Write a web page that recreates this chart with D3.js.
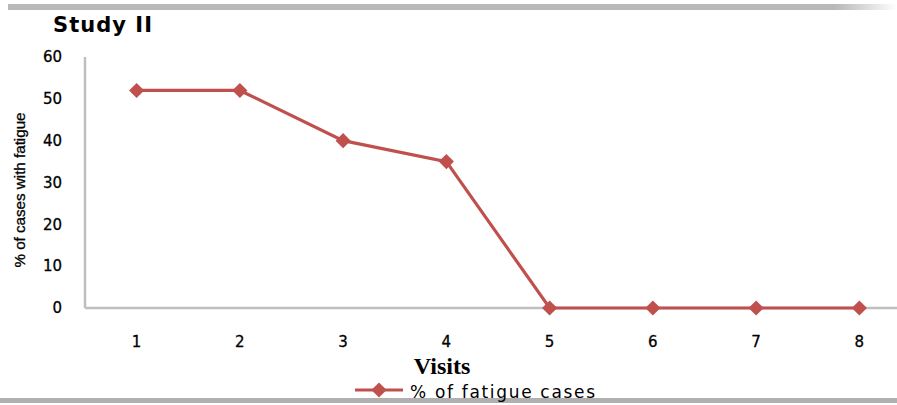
<!DOCTYPE html>
<html>
<head>
<meta charset="utf-8">
<script src="https://cdn.jsdelivr.net/npm/d3@7"></script>
<style>
  body { margin: 0; background: #fff; }
  svg { display: block; }
</style>
</head>
<body>
<div id="chart"></div>
<script>
var visits = ["1", "2", "3", "4", "5", "6", "7", "8"];
var fatigue = [52, 52, 40, 35, 0, 0, 0, 0];
var yTicks = [0, 10, 20, 30, 40, 50, 60];

var width = 897, height = 405;
var margin = {top: 57, left: 85, bottom: 97, right: -14};
var red = "#c0504d";

var svg = d3.select("#chart").append("svg")
  .attr("width", width)
  .attr("height", height);

var defs = svg.append("defs");
var grad = defs.append("linearGradient").attr("id", "topbar");
grad.append("stop").attr("offset", "0%").attr("stop-color", "#b8b8b8");
grad.append("stop").attr("offset", "93%").attr("stop-color", "#b8b8b8");
grad.append("stop").attr("offset", "100%").attr("stop-color", "#ffffff");

// frame bars
svg.append("rect").attr("x", 8).attr("y", 4).attr("width", 889).attr("height", 6)
  .attr("fill", "url(#topbar)");
svg.append("rect").attr("x", 0).attr("y", 398).attr("width", 897).attr("height", 5)
  .attr("fill", "#b0b0b0");

var x = d3.scaleBand()
  .domain(visits)
  .range([margin.left, width - margin.right]);

var y = d3.scaleLinear()
  .domain([0, 60])
  .range([height - margin.bottom, margin.top]);

var y0 = y(0);

// axes lines
svg.append("line")
  .attr("x1", margin.left).attr("x2", margin.left)
  .attr("y1", y(60)).attr("y2", y0)
  .attr("stroke", "#bfbfbf").attr("stroke-width", 2.5);
svg.append("line")
  .attr("x1", margin.left).attr("x2", width)
  .attr("y1", y0).attr("y2", y0)
  .attr("stroke", "#bfbfbf").attr("stroke-width", 2.5);

// y tick labels
svg.selectAll(".ytick").data(yTicks).enter().append("text")
  .attr("class", "ytick")
  .attr("x", 62)
  .attr("y", d => y(d))
  .attr("dy", "0.35em")
  .attr("text-anchor", "end")
  .attr("font-family", "DejaVu Sans")
  .attr("font-size", 15)
  .attr("fill", "#000")
  .attr("stroke", "#000").attr("stroke-width", 0.3)
  .text(d => d);

// x tick labels
svg.selectAll(".xtick").data(visits).enter().append("text")
  .attr("class", "xtick")
  .attr("x", d => x(d) + x.bandwidth() / 2)
  .attr("y", 347)
  .attr("text-anchor", "middle")
  .attr("font-family", "DejaVu Sans")
  .attr("font-size", 15)
  .attr("fill", "#000")
  .attr("stroke", "#000").attr("stroke-width", 0.3)
  .text(d => d);

// title
svg.append("text")
  .attr("x", 53).attr("y", 32)
  .attr("font-family", "DejaVu Sans")
  .attr("font-weight", "bold")
  .attr("font-size", 21)
  .attr("textLength", 99)
  .attr("lengthAdjust", "spacing")
  .text("Study II");

// axis titles
svg.append("text")
  .attr("transform", "translate(25,190) rotate(-90)")
  .attr("text-anchor", "middle")
  .attr("font-family", "Liberation Sans Narrow, Liberation Sans")
  .attr("font-size", 15)
  .attr("stroke", "#000").attr("stroke-width", 0.3)
  .attr("textLength", 155)
  .attr("lengthAdjust", "spacingAndGlyphs")
  .text("% of cases with fatigue");

svg.append("text")
  .attr("x", 442).attr("y", 374)
  .attr("text-anchor", "middle")
  .attr("font-family", "Liberation Serif")
  .attr("font-weight", "bold")
  .attr("font-size", 24)
  .text("Visits");

// series
var line = d3.line()
  .x((d, i) => x(visits[i]) + x.bandwidth() / 2)
  .y(d => y(d));

svg.append("path")
  .datum(fatigue)
  .attr("d", line)
  .attr("fill", "none")
  .attr("stroke", red)
  .attr("stroke-width", 3.2);

var diamond = d3.symbol().type(d3.symbolSquare).size(115);

svg.selectAll(".pt").data(fatigue).enter().append("path")
  .attr("class", "pt")
  .attr("transform", (d, i) => "translate(" + (x(visits[i]) + x.bandwidth() / 2) + "," + y(d) + ") rotate(45)")
  .attr("d", diamond)
  .attr("fill", red);

// legend
var lg = svg.append("g").attr("transform", "translate(355,390)");
lg.append("line").attr("x1", 0).attr("x2", 48).attr("y1", 0).attr("y2", 0)
  .attr("stroke", red).attr("stroke-width", 3);
lg.append("path").attr("transform", "translate(24,0) rotate(45)").attr("d", diamond).attr("fill", red);
lg.append("text")
  .attr("x", 55).attr("y", 8)
  .attr("font-family", "DejaVu Sans")
  .attr("font-size", 17)
  .attr("textLength", 185)
  .attr("lengthAdjust", "spacing")
  .text("% of fatigue  cases");
</script>
</body>
</html>
